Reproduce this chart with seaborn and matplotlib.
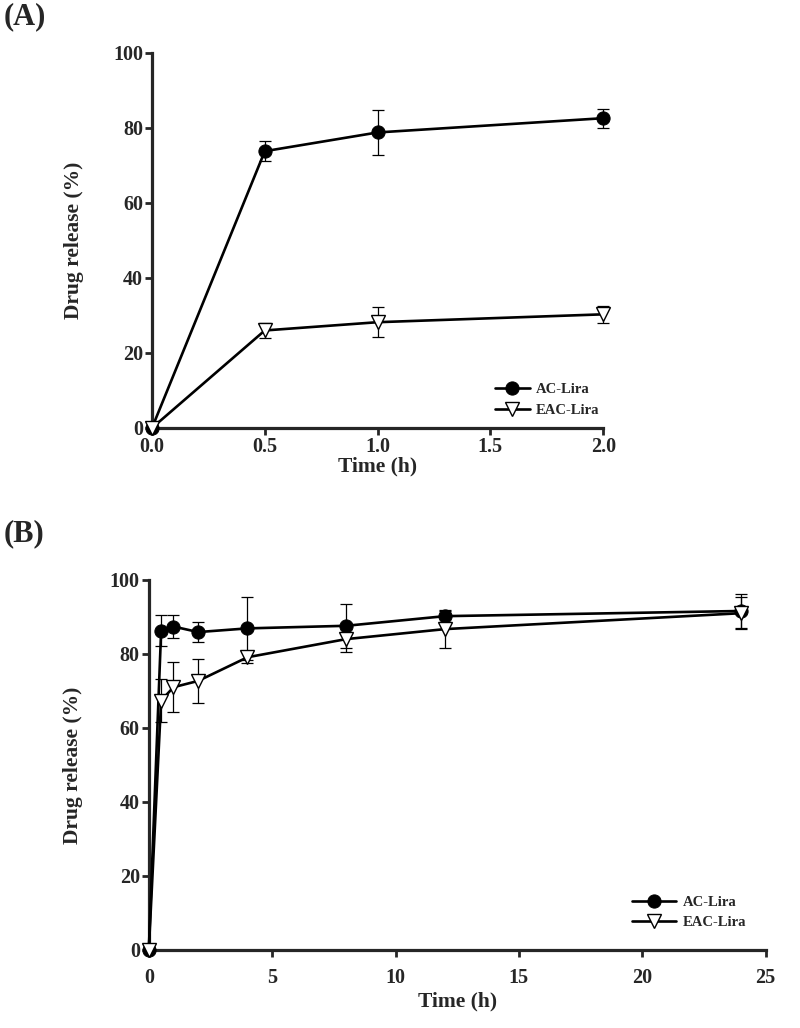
import numpy as np
import pandas as pd
import seaborn as sns
import matplotlib.pyplot as plt

# panel A: short time course
time_a = [0.0, 0.5, 1.0, 2.0]
ac_a = [0.0, 73.8, 78.8, 82.6]
ac_a_err = [0.0, 2.6, 6.1, 2.5]
eac_a = [0.0, 26.0, 28.2, 30.3]
eac_a_err = [0.0, 2.0, 4.0, 2.3]

# panel B: long time course
time_b = [0, 0.5, 1, 2, 4, 8, 12, 24]
ac_b = [0.0, 86.3, 87.4, 85.9, 86.9, 87.6, 90.2, 91.6]
ac_b_err = [0.0, 4.2, 3.0, 2.7, 8.6, 6.0, 1.5, 4.5]
eac_b = [0.0, 67.4, 71.0, 72.7, 79.1, 84.0, 86.7, 91.0]
eac_b_err = [0.0, 5.8, 6.7, 6.0, 1.5, 3.5, 5.2, 4.3]

sns.set_style('ticks')
plt.rcParams['font.family'] = ['Liberation Serif', 'DejaVu Serif']
plt.rcParams['font.weight'] = 'bold'

fig = plt.figure(figsize=(8, 10.28), dpi=100)
ax_a = fig.add_axes([0.19, 0.5837, 0.564, 0.3648])
ax_b = fig.add_axes([0.186, 0.0759, 0.771, 0.36])


def draw_panel(ax, t, ac, ac_err, eac, eac_err, xlim, xticks, xfmt, xpad):
    df = pd.DataFrame({'t': t, 'ac': ac, 'eac': eac})
    ax.errorbar(t, ac, yerr=ac_err, fmt='none', ecolor='black', elinewidth=0.9,
                capsize=4.5, capthick=0.9, zorder=2, clip_on=False)
    ax.errorbar(t, eac, yerr=eac_err, fmt='none', ecolor='black', elinewidth=0.9,
                capsize=4.5, capthick=0.9, zorder=2, clip_on=False)
    sns.lineplot(data=df, x='t', y='ac', ax=ax, color='black', lw=1.9,
                 marker='o', markersize=9.5, markerfacecolor='black',
                 markeredgecolor='black', label='AC-Lira', zorder=3, clip_on=False)
    sns.lineplot(data=df, x='t', y='eac', ax=ax, color='black', lw=1.9,
                 marker='v', markersize=10.5, markerfacecolor='white',
                 markeredgecolor='black', markeredgewidth=1.0,
                 label='EAC-Lira', zorder=4, clip_on=False)
    ax.set_xlim(*xlim)
    ax.set_ylim(0, 100)
    ax.set_xticks(xticks)
    ax.set_xticklabels([xfmt.format(x) for x in xticks])
    ax.set_yticks([0, 20, 40, 60, 80, 100])
    sns.despine(ax=ax)
    for s in ['left', 'bottom']:
        ax.spines[s].set_linewidth(2.3)
    ax.tick_params(width=2.0, length=5, labelsize=14.5, direction='out')
    ax.tick_params(axis='x', pad=xpad)
    ax.tick_params(axis='y', pad=1.5)
    ax.set_xlabel('Time (h)', fontsize=15.5, fontweight='bold')
    ax.set_ylabel('Drug release (%)', fontsize=15.5, fontweight='bold')
    for lab in ax.get_xticklabels() + ax.get_yticklabels():
        lab.set_fontweight('bold')


draw_panel(ax_a, time_a, ac_a, ac_a_err, eac_a, eac_a_err,
           (0, 2.0), [0.0, 0.5, 1.0, 1.5, 2.0], '{:.1f}', 1.5)
draw_panel(ax_b, time_b, ac_b, ac_b_err, eac_b, eac_b_err,
           (0, 25), [0, 5, 10, 15, 20, 25], '{:d}', 8)

# label placement in axes fractions
ax_a.yaxis.set_label_coords(-0.151, 0.5)
ax_b.yaxis.set_label_coords(-0.106, 0.5)
ax_a.xaxis.set_label_coords(0.5, -0.077)
ax_b.xaxis.set_label_coords(0.5, -0.112)

ax_a.legend(loc='lower right', bbox_to_anchor=(1.02, -0.005), frameon=False,
            handlelength=2.4, handletextpad=0.4, labelspacing=0.5,
            prop={'weight': 'bold', 'size': 10.5})
ax_b.legend(loc='lower right', bbox_to_anchor=(0.99, 0.02), frameon=False,
            handlelength=3.0, handletextpad=0.5, labelspacing=0.5,
            prop={'weight': 'bold', 'size': 10.5})

fig.text(0.004, 0.998, '(A)', fontsize=22, fontweight='bold', va='top', ha='left')
fig.text(0.004, 0.495, '(B)', fontsize=22, fontweight='bold', va='top', ha='left')

fig.savefig('out.png', dpi=100)
